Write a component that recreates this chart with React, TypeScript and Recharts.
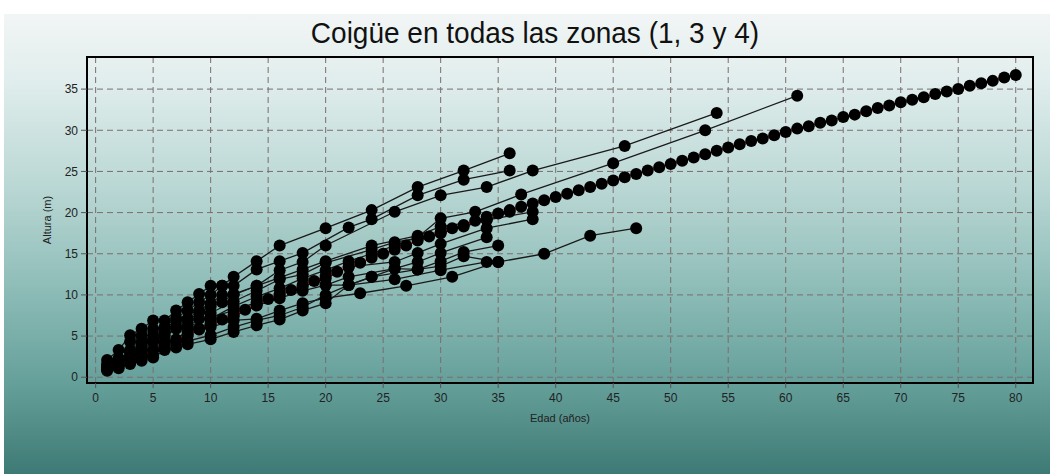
import { LineChart, Line, XAxis, YAxis, CartesianGrid, ReferenceArea } from 'recharts';

type Pt = [number, number];

// modelled height curve, one point per year of age
const modelCurve: Pt[] = [
  [1, 0.8], [2, 1.4], [3, 2.0], [4, 2.7], [5, 3.3], [6, 3.9], [7, 4.6], [8, 5.2], [9, 5.8], [10, 6.4],
  [11, 7.0], [12, 7.6], [13, 8.2], [14, 8.8], [15, 9.5], [16, 10.0], [17, 10.6], [18, 11.2], [19, 11.7], [20, 12.3],
  [21, 12.8], [22, 13.4], [23, 13.9], [24, 14.5], [25, 15.0], [26, 15.5], [27, 16.0], [28, 16.6], [29, 17.1], [30, 17.6],
  [31, 18.1], [32, 18.5], [33, 19.0], [34, 19.5], [35, 19.9], [36, 20.3], [37, 20.7], [38, 21.1], [39, 21.5], [40, 21.9],
  [41, 22.3], [42, 22.7], [43, 23.1], [44, 23.5], [45, 23.9], [46, 24.3], [47, 24.7], [48, 25.1], [49, 25.5], [50, 25.9],
  [51, 26.3], [52, 26.7], [53, 27.1], [54, 27.5], [55, 27.9], [56, 28.3], [57, 28.7], [58, 29.0], [59, 29.4], [60, 29.8],
  [61, 30.2], [62, 30.5], [63, 30.9], [64, 31.2], [65, 31.6], [66, 31.9], [67, 32.3], [68, 32.7], [69, 33.0], [70, 33.4],
  [71, 33.7], [72, 34.0], [73, 34.4], [74, 34.7], [75, 35.0], [76, 35.4], [77, 35.7], [78, 36.0], [79, 36.4], [80, 36.7],
];

// measured trees (age, height)
const tree01: Pt[] = [[1, 2.1], [2, 3.3], [3, 5.1], [4, 5.9], [5, 6.9], [6, 6.9], [7, 8.1], [8, 9.1], [9, 10.1], [10, 11.1], [11, 11.1], [12, 12.2], [14, 14.1], [16, 16.0], [20, 18.1], [24, 20.3], [28, 23.1], [32, 25.1], [36, 27.2]];
const tree02: Pt[] = [[1, 1.6], [2, 2.3], [3, 4.3], [4, 5.1], [5, 5.9], [6, 6.1], [7, 7.2], [8, 8.1], [9, 9.1], [10, 10.0], [11, 11.1], [12, 11.1], [14, 13.1], [16, 14.1], [18, 15.1], [22, 18.2], [24, 19.2], [28, 22.1], [32, 24.0], [36, 25.1]];
const tree03: Pt[] = [[1, 1.1], [2, 2.1], [3, 3.3], [4, 4.3], [5, 5.1], [6, 5.9], [7, 6.9], [8, 7.1], [9, 8.1], [10, 9.0], [11, 10.0], [12, 10.0], [14, 11.1], [16, 13.0], [18, 14.0], [20, 16.0], [26, 20.1], [30, 22.1], [34, 23.1], [38, 25.1], [46, 28.1], [54, 32.1]];
const tree04: Pt[] = [[1, 1.0], [2, 1.6], [3, 2.6], [4, 3.3], [5, 4.3], [6, 5.0], [7, 5.9], [8, 6.1], [9, 7.1], [10, 7.1], [12, 8.6], [14, 9.8], [16, 10.8], [18, 12.0], [20, 13.0], [22, 14.1], [24, 15.0], [26, 16.0], [28, 17.0], [30, 19.3], [33, 20.1], [37, 22.2], [45, 26.0], [53, 30.0], [61, 34.2]];
const tree05: Pt[] = [[1, 1.0], [2, 1.1], [3, 2.1], [4, 2.6], [5, 3.3], [6, 4.3], [7, 4.3], [8, 5.0], [9, 5.9], [10, 6.1], [12, 6.9], [14, 7.1], [16, 8.1], [18, 9.0], [20, 9.6], [23, 10.2], [27, 11.1], [31, 12.2], [35, 14.0], [39, 15.0], [43, 17.2], [47, 18.1]];
const tree06: Pt[] = [[1, 1.3], [2, 2.0], [3, 3.0], [4, 3.6], [5, 4.6], [6, 5.6], [7, 6.2], [8, 6.9], [9, 7.9], [10, 8.6], [11, 9.1], [12, 10.1], [14, 11.1], [16, 12.1], [18, 13.1], [20, 14.1], [24, 16.0], [28, 17.2], [30, 18.3], [34, 19.1], [38, 20.1]];
const tree07: Pt[] = [[1, 1.4], [2, 2.2], [3, 3.1], [4, 4.0], [5, 4.4], [6, 5.3], [8, 6.1], [10, 7.3], [12, 8.1], [14, 9.1], [16, 10.1], [18, 11.0], [20, 12.0], [22, 13.4], [26, 14.0], [28, 15.1], [30, 16.2], [34, 18.1], [38, 19.2]];
const tree08: Pt[] = [[1, 1.0], [3, 1.6], [5, 2.6], [7, 3.6], [8, 4.4], [10, 5.1], [12, 6.1], [14, 6.9], [16, 7.5], [18, 8.5], [20, 10.0], [22, 11.2], [24, 12.2], [28, 13.1], [30, 14.1], [32, 15.2], [35, 16.0]];
const tree09: Pt[] = [[1, 1.1], [2, 1.3], [4, 2.0], [5, 2.4], [6, 3.3], [8, 4.0], [10, 4.6], [12, 5.5], [14, 6.3], [16, 7.0], [18, 8.1], [20, 9.0], [22, 11.2], [26, 11.9], [30, 13.0], [34, 14.0]];
const tree10: Pt[] = [[2, 2.2], [4, 3.0], [6, 4.0], [8, 5.5], [10, 6.6], [12, 7.4], [14, 8.7], [16, 9.6], [18, 10.5], [20, 11.2], [22, 12.2], [26, 13.2], [28, 14.0], [30, 15.1], [34, 17.0]];
const tree11: Pt[] = [[10, 7.8], [12, 9.2], [14, 10.5], [16, 11.9], [18, 12.5], [20, 13.9], [24, 15.5], [26, 16.4], [28, 16.9], [30, 17.5], [32, 18.3], [34, 19.1], [36, 20.1]];
const tree12: Pt[] = [[20, 11.2], [22, 11.2], [24, 12.2], [26, 13.2], [28, 13.1], [30, 13.5], [32, 14.7], [35, 14.0]];

const trees: Pt[][] = [tree01, tree02, tree03, tree04, tree05, tree06, tree07, tree08, tree09, tree10, tree11, tree12];

const xTicks = [0, 5, 10, 15, 20, 25, 30, 35, 40, 45, 50, 55, 60, 65, 70, 75, 80];
const yTicks = [0, 5, 10, 15, 20, 25, 30, 35];

const toRows = (pts: Pt[]) => pts.map(([x, y]) => ({ x, y }));

const font = '"Liberation Sans", Arial, sans-serif';
const dotStyle = { r: 6, fill: '#000', stroke: '#000', strokeWidth: 0 };

export default function App() {
  return (
    <div style={{ position: 'absolute', left: 0, top: 0, width: 1053, height: 474, background: '#fff', overflow: 'hidden' }}>
      <div
        style={{
          position: 'absolute', left: 4, top: 14, right: 3, bottom: 0,
          background: 'linear-gradient(to bottom, #f2f5f5 0%, #e1eeed 14%, #b9d7d4 38%, #8dbcb7 60%, #66a09b 80%, #3e7a75 100%)',
        }}
      />
      <div
        style={{
          position: 'absolute', left: 0, top: 20, width: 1070, textAlign: 'center',
          fontFamily: font, fontSize: 28, color: '#111', lineHeight: 1,
          transform: 'scaleY(1.05)',
        }}
      >
        Coigüe en todas las zonas (1, 3 y 4)
      </div>
      <LineChart
        width={1053}
        height={474}
        margin={{ top: 57, right: 20, bottom: 51, left: 27 }}
        style={{ position: 'absolute', left: 0, top: 0 }}
      >
        <CartesianGrid stroke="#7a6e6e" strokeDasharray="6 4" strokeWidth={1} />
        <XAxis
          dataKey="x"
          type="number"
          domain={[-0.75, 81.5]}
          ticks={xTicks}
          allowDataOverflow
          height={40}
          tickSize={5}
          tickMargin={5}
          axisLine={false}
          tickLine={{ stroke: '#555' }}
          tick={{ fill: '#222', fontSize: 12, fontFamily: font }}
          label={{ value: 'Edad (años)', position: 'insideBottom', offset: 1, style: { fill: '#222', fontSize: 11, fontFamily: font } }}
        />
        <YAxis
          type="number"
          domain={[-0.7, 38.9]}
          ticks={yTicks}
          allowDataOverflow
          width={60}
          tickSize={6}
          tickMargin={3}
          axisLine={false}
          tickLine={{ stroke: '#555' }}
          tick={{ fill: '#222', fontSize: 12, fontFamily: font }}
          label={{ value: 'Altura (m)', angle: -90, position: 'insideLeft', offset: 20, style: { textAnchor: 'middle', fill: '#222', fontSize: 11, fontFamily: font } }}
        />
        <ReferenceArea x1={-0.75} x2={81.5} y1={-0.7} y2={38.9} fill="none" stroke="#000" strokeWidth={2} ifOverflow="visible" />
        {trees.map((pts, i) => (
          <Line
            key={`tree-${i}`}
            data={toRows(pts)}
            dataKey="y"
            type="linear"
            stroke="#1a1a1a"
            strokeWidth={1.3}
            dot={dotStyle}
            activeDot={false}
            isAnimationActive={false}
          />
        ))}
        <Line
          data={toRows(modelCurve)}
          dataKey="y"
          type="linear"
          stroke="#e01010"
          strokeWidth={2}
          dot={dotStyle}
          activeDot={false}
          isAnimationActive={false}
        />
      </LineChart>
    </div>
  );
}
